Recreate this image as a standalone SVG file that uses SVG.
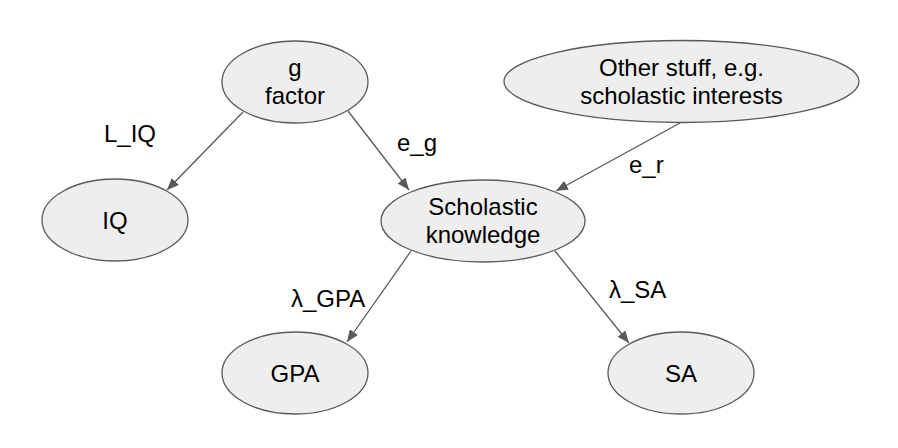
<svg xmlns="http://www.w3.org/2000/svg" width="898" height="448" viewBox="0 0 898 448">
<style>
.node ellipse{fill:#eeeeee;stroke:#595959;stroke-width:1.3}
text{font-family:"Liberation Sans",Arial,sans-serif;font-size:24px;fill:#000}
.node text{text-anchor:middle}
.edge line{stroke:#595959;stroke-width:1.3;fill:none}
</style>
<defs>
<marker id="arr" viewBox="0 0 12 10" refX="12" refY="5" markerWidth="12" markerHeight="10" markerUnits="userSpaceOnUse" orient="auto">
<path d="M0,0 L12,5 L0,10 Z" fill="#595959"/>
</marker>
</defs>
<rect width="898" height="448" fill="#ffffff"/>
<g id="connectors" class="edge">
<line x1="243" y1="112" x2="167" y2="190" marker-end="url(#arr)"/>
<line x1="348" y1="111" x2="409" y2="190" marker-end="url(#arr)"/>
<line x1="680" y1="123" x2="556" y2="191" marker-end="url(#arr)"/>
<line x1="411" y1="251" x2="347" y2="342" marker-end="url(#arr)"/>
<line x1="555" y1="251" x2="629" y2="343" marker-end="url(#arr)"/>
</g>
<g id="edge-labels">
<text x="104" y="142">L_IQ</text>
<text x="397" y="151">e_g</text>
<text x="629" y="173">e_r</text>
<text x="291" y="307">λ_GPA</text>
<text x="609" y="298">λ_SA</text>
</g>
<g id="node-g" class="node">
<ellipse cx="295" cy="82" rx="73" ry="41"/>
<text x="295" y="76">g</text>
<text x="295" y="104">factor</text>
</g>
<g id="node-other" class="node">
<ellipse cx="681.5" cy="81.5" rx="177.5" ry="41"/>
<text x="681.5" y="76">Other stuff, e.g.</text>
<text x="681.5" y="104">scholastic interests</text>
</g>
<g id="node-iq" class="node">
<ellipse cx="115" cy="220" rx="73" ry="41"/>
<text x="115" y="229">IQ</text>
</g>
<g id="node-sk" class="node">
<ellipse cx="483" cy="221" rx="102" ry="41"/>
<text x="483" y="215">Scholastic</text>
<text x="483" y="243">knowledge</text>
</g>
<g id="node-gpa" class="node">
<ellipse cx="295" cy="373" rx="73" ry="41"/>
<text x="295" y="382">GPA</text>
</g>
<g id="node-sa" class="node">
<ellipse cx="681" cy="373" rx="73" ry="41"/>
<text x="681" y="382">SA</text>
</g>
</svg>
